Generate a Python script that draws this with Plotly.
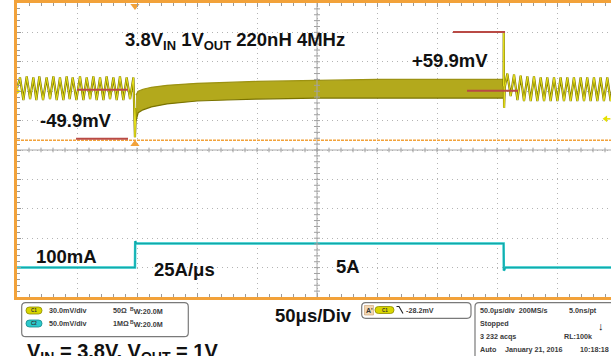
import plotly.graph_objects as go

# Scope settings
TIME_DIV_US = 50.0
CH1_MV_DIV = 30.0
CH2_MV_DIV = 50.0
CH1_POS_DIV = 2.0
CH2_POS_DIV = -4.0
TRIG_LEVEL_MV = -28.2
TRIG_TIME_US = 98.3

# Ch1 (V_OUT, AC): ripple before the load step, then the undershoot (us, mV)
ch1_pre_t = [0.0, 2.5, 5.3, 8.1, 10.9, 13.6, 16.1, 18.6, 21.7, 24.7, 27.5, 30.3,
             33.1, 35.8, 38.6, 41.4, 43.9, 46.4, 49.5, 52.5, 55.3, 58.1, 60.9,
             63.6, 66.4, 69.2, 72.0, 74.7, 77.5, 80.3, 83.1, 85.8, 88.6, 91.4,
             94.2, 97.0, 98.3, 99.2]
ch1_pre_mv = [3, 14, -9, 15, -8, 14, -9, 15, -9, 14, -8, 15,
              -9, 14, -9, 15, -8, 14, -9, 15, -9, 14, -8,
              15, -9, 14, -9, 15, -8, 14, -9, 15, -9, 14,
              -8, 14, -47, -17]

# Ch1: envelope of the noisy recovery while the 5 A load is on
ch1_load_t = [99.2, 101, 105, 112, 125, 150, 175, 200, 250, 300, 350, 400, 405.5]
ch1_load_hi = [-4, 0, 2, 4, 6, 8, 9, 10, 11, 12, 12, 12, 12]
ch1_load_lo = [-30, -22, -19, -16, -13, -10, -9, -8, -7, -7, -7, -7, -7]

# Ch1: overshoot at load release and the ripple afterwards
ch1_post_t = [405.5, 405.6, 405.9, 406.5, 408.6, 411.4, 414.2, 417.0, 419.7, 422.5,
              425.3, 428.1, 430.8, 433.6, 436.4, 439.2, 441.9, 444.7, 447.5,
              450.3, 453.0, 455.8, 458.6, 461.4, 464.1, 466.9, 469.7, 472.5,
              475.2, 478.0, 480.8, 483.6, 486.3, 489.1, 491.9, 494.7, 497.4]
ch1_post_mv = [5, 61, -17, 4, 18, -5, 17, -9, 16, -10,
               15, -10, 15, -10, 14, -10, 14, -10, 14,
               -10, 14, -10, 14, -10, 14, -10, 14, -10,
               14, -10, 14, -10, 14, -10, 14, -10, 14]

# Ch2: load current (mV at the probe output)
ch2_t = [0, 98.3, 98.5, 99.5, 405.5, 405.7, 407.0, 495]
ch2_mv = [0, 0, 45, 41, 41, -5, 0, 0]

# Measured deviations
UNDERSHOOT_MV = 49.9
OVERSHOOT_MV = 59.9
UNDER_REF_MV = 1.5
OVER_REF_MV = 0.5

W, H = 611, 356
L, T, B = 17, 3, 59
PW, PH = W - L, H - T - B
ORANGE = "#F2A23A"
YEL = "#E9E31C"
OLIVE = "#7A7300"
CYAN = "#22C7C9"
RED = "#B94A45"
TXT = "#3a3a3a"
FONT = "Liberation Sans, Arial, sans-serif"


def ch1(v):
    return CH1_POS_DIV + v / CH1_MV_DIV


def ch2(v):
    return CH2_POS_DIV + v / CH2_MV_DIV


def X(px):
    return (px - L) / PW


def Y(py):
    return (H - B - py) / PH


def rrect(x0, y0, x1, y1, r):
    return (f"M {X(x0 + r)},{Y(y0)} L {X(x1 - r)},{Y(y0)} Q {X(x1)},{Y(y0)} {X(x1)},{Y(y0 + r)} "
            f"L {X(x1)},{Y(y1 - r)} Q {X(x1)},{Y(y1)} {X(x1 - r)},{Y(y1)} "
            f"L {X(x0 + r)},{Y(y1)} Q {X(x0)},{Y(y1)} {X(x0)},{Y(y1 - r)} "
            f"L {X(x0)},{Y(y0 + r)} Q {X(x0)},{Y(y0)} {X(x0 + r)},{Y(y0)} Z")


fig = go.Figure()

# noisy band while loaded
fig.add_trace(go.Scatter(x=ch1_load_t, y=[ch1(v) for v in ch1_load_lo], mode="lines",
                         line=dict(color=OLIVE, width=1.2), hoverinfo="skip"))
fig.add_trace(go.Scatter(x=ch1_load_t, y=[ch1(v) for v in ch1_load_hi], mode="lines",
                         line=dict(color="#9C9212", width=1.2), fill="tonexty",
                         fillcolor="#B3A91C", hoverinfo="skip"))

# ripple segments
for tt, vv in ((ch1_pre_t, ch1_pre_mv), (ch1_post_t, ch1_post_mv)):
    yy = [ch1(v) for v in vv]
    fig.add_trace(go.Scatter(x=tt, y=yy, mode="lines", line=dict(color=OLIVE, width=2.2),
                             hoverinfo="skip"))
    fig.add_trace(go.Scatter(x=tt, y=yy, mode="lines", line=dict(color=YEL, width=1),
                             hoverinfo="skip"))

# load current
c2 = [ch2(v) for v in ch2_mv]
fig.add_trace(go.Scatter(x=ch2_t, y=c2, mode="lines", line=dict(color=CYAN, width=2.5),
                         hoverinfo="skip"))
fig.add_trace(go.Scatter(x=ch2_t, y=c2, mode="lines", line=dict(color="rgba(0,110,110,0.55)", width=0.7),
                         hoverinfo="skip"))

# channel ground markers, trigger level, trigger position
fig.add_trace(go.Scatter(x=[0.6], y=[CH1_POS_DIV], mode="markers",
                         marker=dict(symbol="triangle-right", size=6, color="#E6D800"),
                         cliponaxis=False, hoverinfo="skip"))
fig.add_trace(go.Scatter(x=[-2.5, -1.7], y=[CH1_POS_DIV, CH2_POS_DIV], mode="markers+text",
                         marker=dict(size=10, color=["#E6DC00", CYAN],
                                     line=dict(color=["#9A8F00", "#108a8a"], width=1)),
                         text=["<b>1</b>", "<b>2</b>"], textposition="middle center",
                         textfont=dict(size=6.5, color="#333", family=FONT),
                         cliponaxis=False, hoverinfo="skip"))
fig.add_trace(go.Scatter(x=[490.5], y=[ch1(TRIG_LEVEL_MV)], mode="markers",
                         marker=dict(symbol="triangle-left", size=6, color="#E6E000"),
                         cliponaxis=False, hoverinfo="skip"))
fig.add_trace(go.Scatter(x=[TRIG_TIME_US, TRIG_TIME_US], y=[4.9, 0.2], mode="markers",
                         marker=dict(symbol=["triangle-down", "triangle-up"], size=8, color=ORANGE),
                         cliponaxis=False, hoverinfo="skip"))

shapes = []
# centre crosshair with minor ticks
shapes.append(dict(type="line", xref="x", yref="y", x0=0, x1=500, y0=0, y1=0,
                   line=dict(color="#A8A8A8", width=1)))
shapes.append(dict(type="line", xref="x", yref="y", x0=250, x1=250, y0=-5, y1=5,
                   line=dict(color="#A8A8A8", width=1)))
for k in range(1, 50):
    t = k * TIME_DIV_US / 5
    shapes.append(dict(type="line", xref="x", yref="y", x0=t, x1=t, y0=-0.08, y1=0.08,
                       line=dict(color="#A0A0A0", width=1)))
for k in range(-24, 25):
    yv = k / 5
    shapes.append(dict(type="line", xref="x", yref="y", x0=247.5, x1=252.5, y0=yv, y1=yv,
                       line=dict(color="#A0A0A0", width=1)))
# orange dashed reference
shapes.append(dict(type="line", xref="paper", yref="y", x0=0, x1=1, y0=0.33, y1=0.33,
                   line=dict(color=ORANGE, width=1.5, dash="3px,1px")))
shapes.append(dict(type="line", xref="x", yref="y", x0=491.5, x1=494.5,
                   y0=ch1(TRIG_LEVEL_MV), y1=ch1(TRIG_LEVEL_MV),
                   line=dict(color="#E6E000", width=1.5)))

# measurement lines
u_top = ch1(UNDER_REF_MV)
u_bot = ch1(UNDER_REF_MV - UNDERSHOOT_MV)
o_bot = ch1(OVER_REF_MV)
o_top = ch1(OVER_REF_MV + OVERSHOOT_MV)
for x0, x1, yv in ((50, 92.5, u_top), (49.2, 92.5, u_bot), (375, 417.5, o_bot), (363.3, 406.7, o_top)):
    shapes.append(dict(type="line", xref="x", yref="y", x0=x0, x1=x1, y0=yv, y1=yv,
                       line=dict(color=RED, width=2)))

# info boxes
BOXC = "#7a7a7a"
shapes.append(dict(type="path", xref="paper", yref="paper", path=rrect(21.7, 302.7, 188.3, 336.7, 4),
                   line=dict(color=BOXC, width=1.2)))
shapes.append(dict(type="path", xref="paper", yref="paper", path=rrect(361.7, 302.7, 471, 318.3, 4),
                   line=dict(color=BOXC, width=1.2)))
shapes.append(dict(type="path", xref="paper", yref="paper", path=rrect(475, 302.7, 630, 380, 4),
                   line=dict(color=BOXC, width=1.2)))
# channel pills
for (x0, y0, x1, y1, fc, lc) in ((26, 307, 42, 314, "#D9D600", "#8d8a00"),
                                  (26, 320, 42, 327, "#2CC9CC", "#138888"),
                                  (375, 306.5, 394, 313.5, "#D9D600", "#8d8a00")):
    shapes.append(dict(type="path", xref="paper", yref="paper", path=rrect(x0, y0, x1, y1, 3.4),
                       line=dict(color=lc, width=0.8), fillcolor=fc))
# A' tag
shapes.append(dict(type="rect", xref="paper", yref="paper", x0=X(364.5), x1=X(373.5), y0=Y(315), y1=Y(305.5),
                   fillcolor="#F3D7B2", line=dict(color="#C9A070", width=0.6)))
# falling-edge icon
shapes.append(dict(type="path", xref="paper", yref="paper",
                   path=f"M {X(396.5)},{Y(306.5)} L {X(399)},{Y(306.5)} L {X(403)},{Y(313.5)}",
                   line=dict(color="#222", width=1.1)))

ann = []


def big(text, x, y, size=18.5):
    ann.append(dict(text=f"<b>{text}</b>", x=x, y=y, xref="x", yref="y", showarrow=False,
                    xanchor="center", yanchor="middle", font=dict(size=size, color="#111", family=FONT)))


big("3.8V<sub>IN</sub> 1V<sub>OUT</sub> 220nH 4MHz", 181.5, 3.70)
big("-49.9mV", 49.2, 1.0)
big("+59.9mV", 361.2, 3.03)
big("100mA", 41.2, -3.62)
big("25A/μs", 139.5, -4.05)
big("5A", 276.2, -3.96)


def ptxt(text, x, y, size=18.5, xanchor="center", color="#111"):
    ann.append(dict(text=f"<b>{text}</b>", x=X(x), y=Y(y), xref="paper", yref="paper", showarrow=False,
                    xanchor=xanchor, yanchor="middle", borderpad=0,
                    font=dict(size=size, color=color, family=FONT)))


ptxt("50μs/Div", 313, 315)
ptxt("V<sub>IN</sub> = 3.8V, V<sub>OUT</sub> = 1V", 122.5, 352, size=20)

S = 7.2
for s, x, y in (("30.0mV/div", 48, 310.5), ("50Ω", 112, 310.5), ("<sup>B</sup>W:20.0M", 128.5, 310.5),
                ("50.0mV/div", 48, 323.5), ("1MΩ", 112, 323.5), ("<sup>B</sup>W:20.0M", 128.5, 323.5),
                ("-28.2mV", 404.5, 310),
                ("50.0μs/div  200MS/s", 478.5, 310), ("5.0ns/pt", 567.5, 310),
                ("Stopped", 478.5, 323),
                ("3 232 acqs", 478.5, 336), ("RL:100k", 562.5, 336),
                ("Auto", 478.5, 349.5), ("January 21, 2016", 503.5, 349.5), ("10:18:18", 578.5, 349.5)):
    ptxt(s, x, y, size=S, xanchor="left", color=TXT)
for s, x, y in (("C1", 34, 310.5), ("C2", 34, 323.5), ("C1", 384.5, 310)):
    ptxt(s, x, y, size=4.5, color="#333")
ptxt("A'", 369, 310.2, size=7, color="#333")
ptxt("↓", 601, 325.5, size=11, color="#111")

fig.update_layout(
    width=W, height=H, margin=dict(l=L, r=0, t=T, b=B, pad=0),
    paper_bgcolor="white", plot_bgcolor="white", showlegend=False,
    shapes=shapes, annotations=ann,
    xaxis=dict(range=[0, PW / 60 * TIME_DIV_US], dtick=TIME_DIV_US, tick0=0, showgrid=True,
               gridcolor="#B4B4B4", griddash="1px,4px", gridwidth=1, zeroline=False,
               showticklabels=False, showline=True, linecolor=ORANGE, linewidth=2.5,
               mirror="ticks", ticks="inside", ticklen=4, tickcolor="#9A9A9A",
               minor=dict(dtick=TIME_DIV_US / 5, ticks="inside", ticklen=3, tickcolor="#9A9A9A")),
    yaxis=dict(range=[-5, 5], dtick=1, tick0=0, showgrid=True, gridcolor="#B4B4B4",
               griddash="1px,4px", gridwidth=1, zeroline=False, showticklabels=False,
               showline=True, linecolor=ORANGE, linewidth=2.5, ticks="inside", ticklen=4,
               tickcolor="#9A9A9A",
               minor=dict(dtick=0.2, ticks="inside", ticklen=3, tickcolor="#9A9A9A")),
)

fig.write_html("out.html")
